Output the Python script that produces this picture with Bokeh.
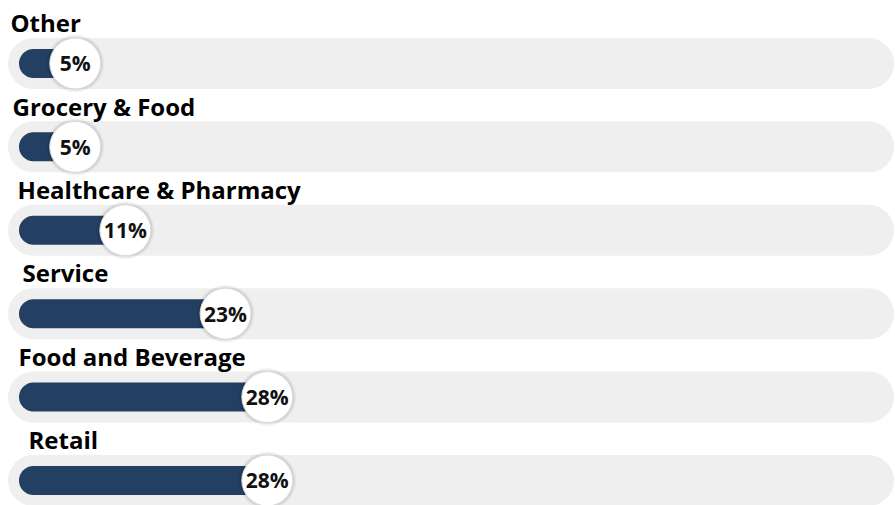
from bokeh.plotting import figure
from bokeh.models import Range1d, ColumnDataSource
from bokeh.core.properties import value
from bokeh.embed import file_html
from bokeh.resources import INLINE

categories = ["Other", "Grocery & Food", "Healthcare & Pharmacy", "Service", "Food and Beverage", "Retail"]
values = [5, 5, 11, 23, 28, 28]
labels = ["5%", "5%", "11%", "23%", "28%", "28%"]
track_max = 100

rows = list(range(len(categories)))
label_shift = [0, 2, 7, 12, 8, 18]

W, H = 895, 505
p = figure(width=W, height=H, output_backend="svg", toolbar_location=None,
           x_range=Range1d(-3.95, 103.23), y_range=Range1d(5.30, -0.755),
           min_border=0)
p.axis.visible = False
p.grid.visible = False
p.outline_line_color = None
p.background_fill_color = "white"

src = ColumnDataSource(dict(
    y=rows, v=values, lab=labels, cat=categories,
    zero=[0] * len(rows), tmax=[track_max] * len(rows),
    ylab=[r - 0.49 for r in rows], xlab=[-2.75] * len(rows), shift=label_shift,
))

# tracks
p.segment(x0="zero", y0="y", x1="tmax", y1="y", source=src,
          line_width=51, line_cap="round", line_color="#efefef")
# bars
p.segment(x0="zero", y0="y", x1="v", y1="y", source=src,
          line_width=29, line_cap="round", line_color="#233f62")
# shadow for circles
p.scatter(x="v", y="y", source=src, size=58, marker="circle",
          fill_color="#000000", fill_alpha=0.04, line_color=None)
p.scatter(x="v", y="y", source=src, size=55, marker="circle",
          fill_color="#000000", fill_alpha=0.07, line_color=None)
p.scatter(x="v", y="y", source=src, size=51, marker="circle",
          fill_color="white", line_color="#d8d8d8", line_width=1)
# percent text
p.text(x="v", y="y", text="lab", source=src, text_align="center",
       text_baseline="middle", text_font=value("Open Sans"),
       text_font_style="bold", text_font_size="21px", text_color="#111111")
# category labels
p.text(x="xlab", y="ylab", text="cat", source=src, x_offset="shift",
       text_align="left", text_baseline="middle", text_font=value("Open Sans"),
       text_font_style="bold", text_font_size="24px", text_color="#000000")

open("out.html", "w").write(file_html(p, INLINE))
